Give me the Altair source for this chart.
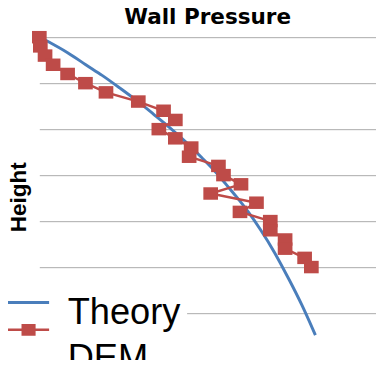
import altair as alt
import pandas as pd

# ---- data ----
dem_height = [35, 34, 33, 32, 31, 30, 29, 28, 27, 26, 25, 24, 23,
              22, 21, 20, 19, 18, 17, 16, 15, 14, 13, 12, 11, 10]
dem_pressure = [0.00, 0.03, 0.17, 0.41, 0.84, 1.37, 1.98, 2.94, 3.69, 4.04,
                3.55, 4.04, 4.51, 4.45, 5.32, 5.47, 5.99, 5.09, 6.45, 5.96,
                6.86, 6.86, 7.30, 7.30, 7.88, 8.08]

theory_height = [34.8, 33.3, 32.0, 30.9, 29.5, 28.0, 26.6, 25.3, 23.4, 21.8,
                 20.3, 19.1, 17.6, 16.1, 14.1, 11.7, 8.5, 6.0, 2.6]
theory_pressure = [0.12, 0.87, 1.37, 1.86, 2.38, 2.94, 3.40, 3.84, 4.42, 4.85,
                   5.26, 5.52, 5.87, 6.19, 6.57, 6.98, 7.44, 7.79, 8.20]

series_names = ["Theory", "DEM"]
series_colors = ["#4a7ebb", "#be4b48"]
grid_values = [5, 10, 15, 20, 25, 30, 35]

# legend glyphs: a line, and a line with a square on it
legend_shapes = [
    "M-3.5,-0.25H3.5V0.25H-3.5ZM0,-1V1",
    "M-3.5,-0.22H3.5V0.22H-3.5ZM-1.2,-1H1.2V1H-1.2Z",
]

dem_df = pd.DataFrame({"height": dem_height, "pressure": dem_pressure,
                       "idx": list(range(len(dem_height)))})
theory_df = pd.DataFrame({"height": theory_height, "pressure": theory_pressure,
                          "idx": list(range(len(theory_height)))})
legend_df = pd.DataFrame({"series": series_names})

x_enc = alt.X("pressure:Q", scale=alt.Scale(domain=[0, 10], nice=False), axis=None)
y_enc = alt.Y(
    "height:Q",
    scale=alt.Scale(domain=[0.3, 35], nice=False, zero=False),
    axis=alt.Axis(
        title="Height", values=grid_values, labels=False, ticks=False,
        domain=False, grid=True, gridColor="#a9a9a9", gridWidth=1,
        titleFont="Liberation Sans", titleFontSize=23, titleFontWeight="bold",
        titleColor="black", titleX=-9,
    ),
)

theory = alt.Chart(theory_df).mark_line(
    color=series_colors[0], strokeWidth=3, interpolate="basis"
).encode(x=x_enc, y=y_enc, order="idx:Q")

dem_line = alt.Chart(dem_df).mark_line(
    color=series_colors[1], strokeWidth=2.5
).encode(x=x_enc, y=y_enc, order="idx:Q")

dem_pts = alt.Chart(dem_df).mark_point(
    shape="M-1,-0.85H1V0.85H-1Z", filled=True, size=225,
    color=series_colors[1], opacity=1
).encode(x=x_enc, y=y_enc)

# legend part 1: the names (drawn first, white box behind them)
leg_labels = alt.Legend(
    title=None, orient="none", legendX=-14, legendY=257.5, padding=6,
    fillColor="white", labelFont="Liberation Sans", labelFontSize=37,
    labelColor="black", labelOffset=0, labelBaseline="middle",
    symbolSize=4, symbolOpacity=0, symbolStrokeWidth=0, rowPadding=9,
)
legend_labels = alt.Chart(legend_df).mark_point(filled=True, opacity=1).encode(
    color=alt.Color("series:N", scale=alt.Scale(domain=series_names, range=series_colors),
                    legend=leg_labels),
).transform_filter("false")

# legend part 2: the glyphs
leg_symbols = alt.Legend(
    title=None, orient="none", legendX=-21, legendY=261, padding=4,
    labelFontSize=1, labelOpacity=0, labelExpr="''",
    labelOffset=0, symbolSize=144, symbolStrokeWidth=0, symbolOpacity=1,
    rowPadding=16,
)
legend_symbols = alt.Chart(legend_df).mark_point(filled=True, opacity=1).encode(
    color=alt.Color("series:N", scale=alt.Scale(domain=series_names, range=series_colors),
                    legend=leg_symbols),
    shape=alt.Shape("series:N", scale=alt.Scale(domain=series_names, range=legend_shapes),
                    legend=leg_symbols),
).transform_filter("false")

chart = alt.layer(theory, dem_line, dem_pts, legend_labels, legend_symbols).resolve_scale(
    color="independent", shape="independent"
).properties(
    width=344, height=326,
    padding={"left": 32, "top": 26, "right": 0, "bottom": 0},
    autosize=alt.AutoSizeParams(type="none"),
    title=alt.Title("Wall Pressure", font="DejaVu Sans", fontSize=22,
                    fontWeight="bold", anchor="middle", offset=2, color="black"),
).configure_view(stroke=None)

chart.save("out.html", embed_options={"renderer": "svg", "actions": False})
